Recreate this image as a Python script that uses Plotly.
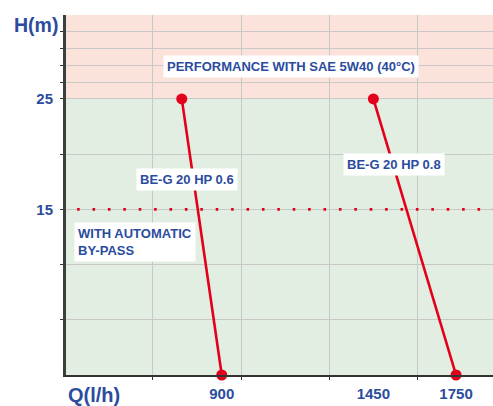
import plotly.graph_objects as go

# ---- data ----
pump_names = ["BE-G 20 HP 0.6", "BE-G 20 HP 0.8"]
q_06 = [755, 900]      # l/h
h_06 = [25, 0]         # m
q_08 = [1450, 1750]
h_08 = [25, 0]
bypass_h = 15
x_tick_vals = [900, 1450, 1750]
x_tick_text = ["900", "1450", "1750"]
y_tick_vals = [15, 25]
y_tick_text = ["15", "25"]
max_h = 25

# ---- style ----
RED = "#E3001B"
BLUE = "#2B4C9E"
PINK = "#FBE2DA"
GREEN = "#E3EEE2"
GRID = "#C8C8C8"
FONT = "Liberation Sans"

X_RANGE = [335, 1884]
Y_RANGE = [0, 32.6]

fig = go.Figure()
for qs, hs in [(q_06, h_06), (q_08, h_08)]:
    fig.add_trace(go.Scatter(
        x=qs, y=hs, mode="lines+markers",
        line=dict(color=RED, width=2.6),
        marker=dict(color=RED, size=11),
        showlegend=False, cliponaxis=False, hoverinfo="skip"))

# pink band above max head
fig.add_shape(type="rect", xref="paper", x0=0, x1=1, yref="y", y0=max_h, y1=Y_RANGE[1],
              fillcolor=PINK, line_width=0, layer="below")
# by-pass dotted line
fig.add_shape(type="line", xref="paper", x0=0.026, x1=1, yref="y", y0=bypass_h, y1=bypass_h,
              line=dict(color=RED, width=2.6, dash="2.6px,12.8px"))

ann_font = dict(family=FONT, size=13, color=BLUE, weight="bold")
def ann(text, x, y, xanchor="center", align="center"):
    fig.add_annotation(text=text, xref="paper", yref="paper", x=x, y=y, xanchor=xanchor,
                       yanchor="middle", showarrow=False, bgcolor="white", borderpad=3,
                       font=ann_font, align=align)

ann("PERFORMANCE WITH SAE 5W40 (40°C)", 0.527, 0.858)
ann(pump_names[0], 0.283, 0.542)
ann(pump_names[1], 0.767, 0.585)
ann("WITH AUTOMATIC<br>BY-PASS", 0.018, 0.37, xanchor="left", align="left")

# axis titles
fig.add_annotation(text="H(m)", xref="paper", yref="paper", x=-0.126, y=0.972,
                   xanchor="left", yanchor="middle", showarrow=False,
                   font=dict(family=FONT, size=19.5, color=BLUE, weight="bold"))
fig.add_annotation(text="Q(l/h)", xref="paper", yref="paper", x=0.0, y=-0.055,
                   xanchor="left", yanchor="middle", showarrow=False,
                   font=dict(family=FONT, size=20, color=BLUE, weight="bold"))

tick_font = dict(family=FONT, size=15, color=BLUE, weight="bold")
fig.update_xaxes(range=X_RANGE, tickmode="array", tickvals=x_tick_vals, ticktext=x_tick_text,
                 showgrid=False, zeroline=False, ticks="", tickfont=tick_font,
                 ticklabelstandoff=4, automargin=False,
                 showline=True, linecolor="#333333", linewidth=1.6,
                 minor=dict(tickmode="array", tickvals=[650, 970, 1290, 1610],
                            showgrid=True, gridcolor=GRID, gridwidth=1,
                            ticks="outside", ticklen=3, tickcolor="#333333"))
fig.update_yaxes(range=Y_RANGE, tickmode="array", tickvals=y_tick_vals, ticktext=y_tick_text,
                 showgrid=False, zeroline=False, ticks="", tickfont=tick_font,
                 ticklabelstandoff=7, automargin=False,
                 showline=True, linecolor="#3C403C", linewidth=3,
                 minor=dict(tickmode="array",
                            tickvals=[5, 10, 15, 20, 25, 26.52, 28.04, 29.56, 31.08],
                            showgrid=True, gridcolor=GRID, gridwidth=1,
                            ticks="outside", ticklen=3, tickcolor="#333333"))

fig.update_layout(width=493, height=406, margin=dict(l=66, r=0, t=15, b=31),
                  paper_bgcolor="white", plot_bgcolor=GREEN,
                  font=dict(family=FONT, color=BLUE))

fig.write_html("out.html", config={"displayModeBar": False},
               post_script="document.body.style.margin='0';document.body.style.padding='0';")
